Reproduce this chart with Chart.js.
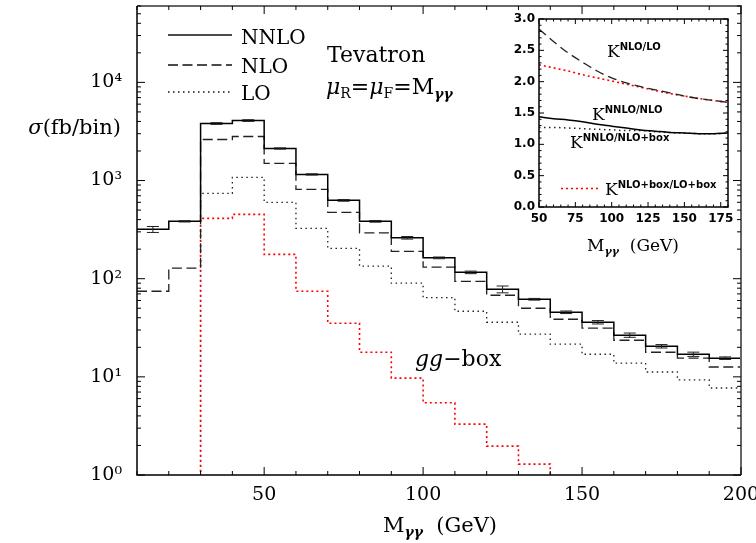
<!DOCTYPE html>
<html>
<head>
<meta charset="utf-8">
<script src="https://cdn.jsdelivr.net/npm/chart.js@4.4.0/dist/chart.umd.min.js"></script>
<style>
  html, body { margin: 0; padding: 0; background: #fff; }
  #wrap { position: relative; width: 756px; height: 543px; }
  #main { position: absolute; left: 0; top: 0; }
  #inset { position: absolute; left: 495px; top: 10px; }
</style>
</head>
<body>
<div id="wrap">
  <canvas id="main" width="756" height="543"></canvas>
  <canvas id="inset" width="240" height="252"></canvas>
</div>
<script>
// bins de 10 GeV, de 10 a 200
const binEdges = [10, 20, 30, 40, 50, 60, 70, 80, 90, 100, 110, 120, 130, 140, 150, 160, 170, 180, 190, 200];
const nnlo = [318, 384, 3810, 4085, 2120, 1154, 628, 384, 261, 163, 116, 78, 61.7, 45.5, 36, 26.6, 20.5, 17, 15.5];
const nnloErr = [0.07, 0.015, 0.02, 0.02, 0.015, 0.015, 0.02, 0.02, 0.03, 0.02, 0.03, 0.08, 0.02, 0.03, 0.04, 0.05, 0.04, 0.05, 0.03];
const nlo = [74.5, 128, 2620, 2810, 1493, 812, 474, 293, 190, 131, 94, 67.8, 50, 38.6, 31.3, 23.6, 17.8, 15.5, 12.6];
const lo = [0.1, 0.1, 739, 1075, 599, 326, 204, 134, 90, 64, 46.6, 36, 27.2, 21.5, 17, 13.8, 11.2, 9.3, 7.7];
const ggBox = [0.1, 0.1, 412, 452, 177, 74.5, 35.2, 17.8, 9.7, 5.44, 3.3, 1.97, 1.29, 0.1, null, null, null, null, null];

const xTicks = [50, 100, 150, 200];
const yTicks = [1, 10, 100, 1000, 10000];

// inset: fatores K
const kX = [50, 60, 70, 80, 90, 100, 110, 120, 130, 140, 150, 160, 170, 180];
const kNloLo = [2.84, 2.64, 2.46, 2.31, 2.17, 2.06, 1.98, 1.92, 1.87, 1.82, 1.77, 1.73, 1.70, 1.67];
const kNloBoxLoBox = [2.27, 2.22, 2.17, 2.11, 2.06, 2.01, 1.96, 1.91, 1.86, 1.81, 1.77, 1.73, 1.70, 1.67];
const kNnloNlo = [1.44, 1.41, 1.39, 1.36, 1.32, 1.29, 1.26, 1.23, 1.21, 1.19, 1.18, 1.17, 1.17, 1.18];
const kNnloNloBox = [1.27, 1.27, 1.26, 1.25, 1.24, 1.23, 1.22, 1.22, 1.20, 1.19, 1.18, 1.17, 1.17, 1.18];
const kXTicks = [50, 75, 100, 125, 150, 175];
const kYTicks = [0, 0.5, 1, 1.5, 2, 2.5, 3];

const SERIF = "'DejaVu Serif', 'Liberation Serif', serif";
const SANS = "'DejaVu Sans', 'Liberation Sans', sans-serif";

function steps(vals) {
  return binEdges.map((x, i) => ({ x: x, y: i < vals.length ? vals[i] : vals[vals.length - 1] }));
}

function sup(n) {
  const m = { "0": "⁰", "1": "¹", "2": "²", "3": "³", "4": "⁴", "5": "⁵" };
  return String(n).split("").map(c => m[c]).join("");
}

// desenha texto com partes (subscrito / sobrescrito)
function drawParts(ctx, parts, x, y, align) {
  let total = 0;
  parts.forEach(p => { ctx.font = p.font; total += ctx.measureText(p.t).width; });
  let cx = align === "center" ? x - total / 2 : (align === "right" ? x - total : x);
  ctx.textAlign = "left";
  ctx.textBaseline = "alphabetic";
  parts.forEach(p => {
    ctx.font = p.font;
    ctx.fillStyle = p.color || "#000";
    ctx.fillText(p.t, cx, y + (p.dy || 0));
    cx += ctx.measureText(p.t).width;
  });
}

// tira o padding automático dos rótulos para fixar a área do gráfico
function noPad(s) {
  s.paddingTop = 0; s.paddingBottom = 0; s.paddingLeft = 0; s.paddingRight = 0;
}

const mainDecor = {
  id: "mainDecor",
  afterDatasetsDraw(chart) {
    const ctx = chart.ctx;
    const ca = chart.chartArea;
    const xs = chart.scales.x;
    const ys = chart.scales.y;
    ctx.save();

    // barras de erro NNLO
    ctx.strokeStyle = "#222";
    ctx.lineWidth = 1;
    nnlo.forEach((v, i) => {
      const xc = xs.getPixelForValue((binEdges[i] + binEdges[i + 1]) / 2);
      const y1 = ys.getPixelForValue(v * (1 + nnloErr[i]));
      const y2 = ys.getPixelForValue(v * (1 - nnloErr[i]));
      ctx.beginPath();
      ctx.moveTo(xc, y1); ctx.lineTo(xc, y2);
      ctx.moveTo(xc - 6, y1); ctx.lineTo(xc + 6, y1);
      ctx.moveTo(xc - 6, y2); ctx.lineTo(xc + 6, y2);
      ctx.stroke();
    });

    // moldura
    ctx.lineWidth = 2;
    ctx.strokeStyle = "#666";
    ctx.beginPath();
    ctx.moveTo(ca.left, ca.top); ctx.lineTo(ca.right, ca.top); ctx.lineTo(ca.right, ca.bottom);
    ctx.stroke();
    ctx.strokeStyle = "#000";
    ctx.lineWidth = 1.5;
    ctx.beginPath();
    ctx.moveTo(ca.left, ca.top); ctx.lineTo(ca.left, ca.bottom); ctx.lineTo(ca.right, ca.bottom);
    ctx.stroke();

    // ticks para dentro, nos 4 lados
    ctx.lineWidth = 1;
    ctx.strokeStyle = "#000";
    ctx.beginPath();
    binEdges.forEach(v => {
      const px = xs.getPixelForValue(v);
      const len = xTicks.includes(v) ? 8 : 4;
      ctx.moveTo(px, ca.bottom); ctx.lineTo(px, ca.bottom - len);
      ctx.moveTo(px, ca.top); ctx.lineTo(px, ca.top + len);
    });
    for (let d = 0; d <= 4; d++) {
      for (let m = 1; m <= 9; m++) {
        const v = m * Math.pow(10, d);
        if (v > ys.max) continue;
        const py = ys.getPixelForValue(v);
        const len = m === 1 ? 8 : 4;
        ctx.moveTo(ca.left, py); ctx.lineTo(ca.left + len, py);
        ctx.moveTo(ca.right, py); ctx.lineTo(ca.right - len, py);
      }
    }
    ctx.stroke();

    // legenda
    const leg = [
      { t: "NNLO", y: 35, dash: [], base: 44 },
      { t: "NLO", y: 65, dash: [10, 4.5], base: 73 },
      { t: "LO", y: 92, dash: [1.5, 3.5], base: 100 }
    ];
    leg.forEach(l => {
      ctx.setLineDash(l.dash);
      ctx.lineWidth = 1.3;
      ctx.strokeStyle = "#111";
      ctx.beginPath(); ctx.moveTo(168, l.y); ctx.lineTo(232, l.y); ctx.stroke();
      ctx.setLineDash([]);
      drawParts(ctx, [{ t: l.t, font: "20px " + SERIF }], 241, l.base, "left");
    });

    drawParts(ctx, [{ t: "Tevatron", font: "22px " + SERIF }], 327, 62, "left");
    drawParts(ctx, [
      { t: "μ", font: "italic 22px " + SERIF },
      { t: "R", font: "14px " + SERIF, dy: 4 },
      { t: "=", font: "22px " + SERIF },
      { t: "μ", font: "italic 22px " + SERIF },
      { t: "F", font: "14px " + SERIF, dy: 4 },
      { t: "=M", font: "22px " + SERIF },
      { t: "γγ", font: "italic bold 14px " + SERIF, dy: 5 }
    ], 326, 94, "left");

    drawParts(ctx, [
      { t: "gg", font: "italic 22px " + SERIF },
      { t: "−box", font: "22px " + SERIF }
    ], 415, 366, "left");

    // títulos dos eixos
    drawParts(ctx, [
      { t: "σ", font: "italic 21px " + SERIF },
      { t: "(fb/bin)", font: "21px " + SERIF }
    ], 121, 134, "right");
    drawParts(ctx, [
      { t: "M", font: "21px " + SERIF },
      { t: "γγ", font: "italic bold 14px " + SERIF, dy: 5 },
      { t: "  (GeV)", font: "21px " + SERIF }
    ], 440, 532, "center");

    ctx.restore();
  }
};

new Chart(document.getElementById("main"), {
  type: "line",
  data: {
    datasets: [
      { label: "NNLO", data: steps(nnlo), borderColor: "#000", borderWidth: 1.5, stepped: true },
      { label: "NLO", data: steps(nlo), borderColor: "#222", borderWidth: 1.3, borderDash: [10, 4.5], stepped: true },
      { label: "gg-box", data: steps(ggBox), borderColor: "#ff0000", borderWidth: 1.6, borderDash: [2, 3], stepped: true },
      { label: "LO", data: steps(lo), borderColor: "#222", borderWidth: 1.3, borderDash: [1.5, 3.5], stepped: true }
    ]
  },
  plugins: [mainDecor],
  options: {
    responsive: false,
    animation: false,
    devicePixelRatio: 1,
    layout: { padding: { top: 6, right: 15, left: 0, bottom: 0 } },
    elements: { point: { radius: 0 }, line: { tension: 0 } },
    plugins: { legend: { display: false }, tooltip: { enabled: false } },
    scales: {
      x: {
        type: "linear", min: 10, max: 200,
        afterBuildTicks: s => { s.ticks = xTicks.map(v => ({ value: v })); },
        ticks: { color: "#000", font: { family: SERIF, size: 19 }, padding: 9, maxRotation: 0 },
        grid: { display: false, drawTicks: false },
        border: { display: false },
        afterFit: s => { s.height = 68; noPad(s); }
      },
      y: {
        type: "logarithmic", min: 1, max: 60000,
        afterBuildTicks: s => { s.ticks = yTicks.map(v => ({ value: v })); },
        ticks: {
          color: "#000", font: { family: SERIF, size: 19 }, padding: 15,
          callback: v => "10" + sup(Math.round(Math.log10(v)))
        },
        grid: { display: false, drawTicks: false },
        border: { display: false },
        afterFit: s => { s.width = 137; noPad(s); }
      }
    }
  }
});

// ---------- inset ----------
const insetDecor = {
  id: "insetDecor",
  afterDatasetsDraw(chart) {
    const ctx = chart.ctx;
    const ca = chart.chartArea;
    const xs = chart.scales.x;
    const ys = chart.scales.y;
    ctx.save();
    ctx.strokeStyle = "#000";
    ctx.lineWidth = 1.5;
    ctx.strokeRect(ca.left, ca.top, ca.right - ca.left, ca.bottom - ca.top);

    ctx.lineWidth = 1;
    ctx.beginPath();
    for (let v = 50; v <= 180; v += 5) {
      const px = xs.getPixelForValue(v);
      const len = kXTicks.includes(v) ? 5 : 2.5;
      ctx.moveTo(px, ca.bottom); ctx.lineTo(px, ca.bottom - len);
      ctx.moveTo(px, ca.top); ctx.lineTo(px, ca.top + len);
    }
    for (let k = 0; k <= 30; k++) {
      const py = ys.getPixelForValue(k / 10);
      const len = k % 5 === 0 ? 5 : 2.5;
      ctx.moveTo(ca.left, py); ctx.lineTo(ca.left + len, py);
      ctx.moveTo(ca.right, py); ctx.lineTo(ca.right - len, py);
    }
    ctx.stroke();

    const supF = "bold 10px " + SANS;
    const kF = "17px " + SERIF;
    drawParts(ctx, [{ t: "K", font: kF }, { t: "NLO/LO", font: supF, dy: -7 }], 112, 47, "left");
    drawParts(ctx, [{ t: "K", font: kF }, { t: "NNLO/NLO", font: supF, dy: -7 }], 97, 110, "left");
    drawParts(ctx, [{ t: "K", font: kF }, { t: "NNLO/NLO+box", font: supF, dy: -7 }], 75, 138, "left");

    ctx.setLineDash([2, 3]);
    ctx.strokeStyle = "#ff0000";
    ctx.lineWidth = 1.6;
    ctx.beginPath(); ctx.moveTo(66, 178.5); ctx.lineTo(105, 178.5); ctx.stroke();
    ctx.setLineDash([]);
    drawParts(ctx, [{ t: "K", font: kF }, { t: "NLO+box/LO+box", font: supF, dy: -7 }], 110, 185, "left");

    drawParts(ctx, [
      { t: "M", font: "17px " + SERIF },
      { t: "γγ", font: "italic bold 11px " + SERIF, dy: 4 },
      { t: "  (GeV)", font: "17px " + SERIF }
    ], 138, 241, "center");
    ctx.restore();
  }
};

function kPts(vals) {
  return kX.map((x, i) => ({ x: x, y: vals[i] }));
}

new Chart(document.getElementById("inset"), {
  type: "line",
  data: {
    datasets: [
      { label: "K NNLO/NLO", data: kPts(kNnloNlo), borderColor: "#000", borderWidth: 1.5 },
      { label: "K NNLO/NLO+box", data: kPts(kNnloNloBox), borderColor: "#222", borderWidth: 1.5, borderDash: [1.5, 3.5] },
      { label: "K NLO/LO", data: kPts(kNloLo), borderColor: "#222", borderWidth: 1.3, borderDash: [9, 5] },
      { label: "K NLO+box/LO+box", data: kPts(kNloBoxLoBox), borderColor: "#ff0000", borderWidth: 1.6, borderDash: [2, 3] }
    ]
  },
  plugins: [insetDecor],
  options: {
    responsive: false,
    animation: false,
    devicePixelRatio: 1,
    layout: { padding: { top: 9, right: 7, left: 0, bottom: 0 } },
    elements: { point: { radius: 0 }, line: { tension: 0.4, cubicInterpolationMode: "monotone" } },
    plugins: { legend: { display: false }, tooltip: { enabled: false } },
    scales: {
      x: {
        type: "linear", min: 50, max: 180,
        afterBuildTicks: s => { s.ticks = kXTicks.map(v => ({ value: v })); },
        ticks: { color: "#000", font: { family: SANS, size: 12, weight: "bold" }, padding: 5, maxRotation: 0 },
        grid: { display: false, drawTicks: false },
        border: { display: false },
        afterFit: s => { s.height = 55; noPad(s); }
      },
      y: {
        type: "linear", min: 0, max: 3,
        afterBuildTicks: s => { s.ticks = kYTicks.map(v => ({ value: v })); },
        ticks: { color: "#000", font: { family: SANS, size: 12, weight: "bold" }, padding: 4, callback: v => v.toFixed(1) },
        grid: { display: false, drawTicks: false },
        border: { display: false },
        afterFit: s => { s.width = 44; noPad(s); }
      }
    }
  }
});
</script>
</body>
</html>
